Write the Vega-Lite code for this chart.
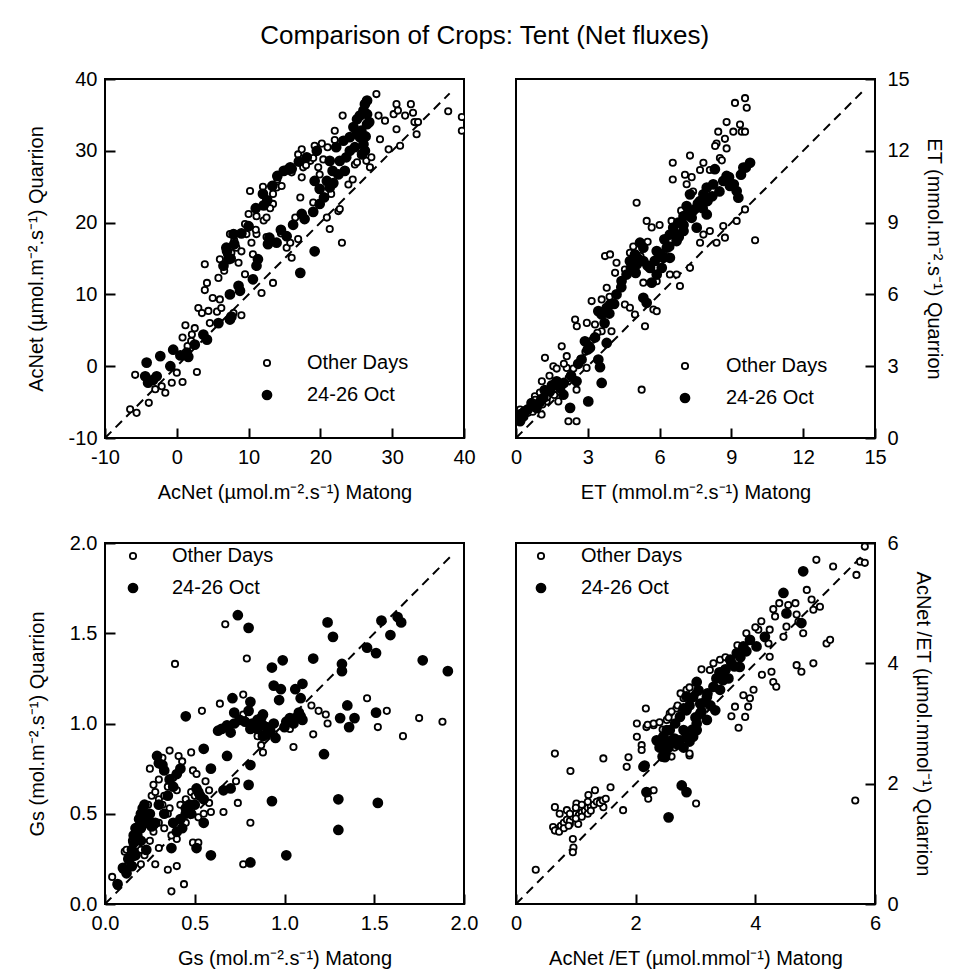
{
"$schema": "https://vega.github.io/schema/vega-lite/v6.json",
"autosize": {"type": "pad"},
"padding": {"left": 25, "top": 23, "right": 5, "bottom": 5},
"background": "white",
"title": {"text": "Comparison of Crops: Tent (Net fluxes)", "fontSize": 26, "fontWeight": "normal", "font": "Liberation Sans", "anchor": "middle", "color": "black", "offset": 19},
"datasets": {
"line1": [{"x": -10, "y": -10}, {"x": 38, "y": 38}],
"line2": [{"x": 0, "y": 0}, {"x": 14.6, "y": 14.6}],
"line3": [{"x": 0, "y": 0}, {"x": 1.93, "y": 1.93}],
"line4": [{"x": 0, "y": 0}, {"x": 5.8, "y": 5.8}],
"p1": [
{"x":-5.8,"y":-1.2,"s":"Other Days"},{"x":-6.5,"y":-6.0,"s":"Other Days"},{"x":-5.6,"y":-6.5,"s":"Other Days"},{"x":-3.9,"y":-5.1,"s":"Other Days"},{"x":-1.6,"y":-3.7,"s":"Other Days"},{"x":-2.1,"y":-2.8,"s":"Other Days"},{"x":-0.7,"y":-2.3,"s":"Other Days"},{"x":0.8,"y":-2.2,"s":"Other Days"},{"x":0,"y":-0.9,"s":"Other Days"},{"x":2.8,"y":-0.8,"s":"Other Days"},{"x":1.1,"y":1.6,"s":"Other Days"},{"x":0.8,"y":4.0,"s":"Other Days"},{"x":1.2,"y":5.7,"s":"Other Days"},{"x":2.1,"y":4.4,"s":"Other Days"},{"x":2.5,"y":5.3,"s":"Other Days"},{"x":3.0,"y":8.1,"s":"Other Days"},{"x":3.5,"y":7.4,"s":"Other Days"},{"x":4.4,"y":7.7,"s":"Other Days"},{"x":5.6,"y":7.6,"s":"Other Days"},{"x":4.6,"y":6.0,"s":"Other Days"},{"x":3.9,"y":14.2,"s":"Other Days"},{"x":4.2,"y":11.6,"s":"Other Days"},{"x":3.9,"y":10.6,"s":"Other Days"},{"x":6.0,"y":9.3,"s":"Other Days"},{"x":6.2,"y":8.1,"s":"Other Days"},{"x":7.9,"y":7.4,"s":"Other Days"},{"x":9.0,"y":7.1,"s":"Other Days"},{"x":5.8,"y":12.3,"s":"Other Days"},{"x":6.6,"y":13.3,"s":"Other Days"},{"x":6.0,"y":14.9,"s":"Other Days"},{"x":7.0,"y":15.6,"s":"Other Days"},{"x":7.4,"y":18.4,"s":"Other Days"},{"x":7.6,"y":15.8,"s":"Other Days"},{"x":8.3,"y":16.5,"s":"Other Days"},{"x":8.6,"y":14.4,"s":"Other Days"},{"x":9.5,"y":12.8,"s":"Other Days"},{"x":10.2,"y":24.4,"s":"Other Days"},{"x":9.5,"y":19.8,"s":"Other Days"},{"x":10.0,"y":21.2,"s":"Other Days"},{"x":11.1,"y":20.9,"s":"Other Days"},{"x":9.7,"y":18.4,"s":"Other Days"},{"x":10.4,"y":17.2,"s":"Other Days"},{"x":10.6,"y":15.6,"s":"Other Days"},{"x":11.1,"y":18.4,"s":"Other Days"},{"x":12.1,"y":20.3,"s":"Other Days"},{"x":12.5,"y":20.7,"s":"Other Days"},{"x":11.8,"y":10.2,"s":"Other Days"},{"x":13.4,"y":11.6,"s":"Other Days"},{"x":13.4,"y":22.6,"s":"Other Days"},{"x":13.4,"y":24.0,"s":"Other Days"},{"x":13.9,"y":24.9,"s":"Other Days"},{"x":14.6,"y":25.1,"s":"Other Days"},{"x":15.3,"y":16.5,"s":"Other Days"},{"x":16.0,"y":15.1,"s":"Other Days"},{"x":15.8,"y":17.2,"s":"Other Days"},{"x":16.5,"y":20.7,"s":"Other Days"},{"x":16.9,"y":29.5,"s":"Other Days"},{"x":17.4,"y":30.2,"s":"Other Days"},{"x":17.4,"y":26.3,"s":"Other Days"},{"x":17.6,"y":27.7,"s":"Other Days"},{"x":17.2,"y":23.5,"s":"Other Days"},{"x":16.9,"y":17.7,"s":"Other Days"},{"x":18.6,"y":28.6,"s":"Other Days"},{"x":19.2,"y":30.7,"s":"Other Days"},{"x":20.2,"y":31.0,"s":"Other Days"},{"x":19.7,"y":27.7,"s":"Other Days"},{"x":20.4,"y":28.8,"s":"Other Days"},{"x":19.0,"y":22.8,"s":"Other Days"},{"x":19.9,"y":26.7,"s":"Other Days"},{"x":20.9,"y":20.7,"s":"Other Days"},{"x":21.3,"y":19.1,"s":"Other Days"},{"x":22.0,"y":32.8,"s":"Other Days"},{"x":22.5,"y":21.6,"s":"Other Days"},{"x":22.7,"y":21.9,"s":"Other Days"},{"x":23.0,"y":17.2,"s":"Other Days"},{"x":23.1,"y":34.9,"s":"Other Days"},{"x":23.9,"y":25.3,"s":"Other Days"},{"x":24.8,"y":28.1,"s":"Other Days"},{"x":25.1,"y":28.4,"s":"Other Days"},{"x":26.4,"y":28.6,"s":"Other Days"},{"x":26.9,"y":27.7,"s":"Other Days"},{"x":27.8,"y":37.9,"s":"Other Days"},{"x":28.1,"y":34.9,"s":"Other Days"},{"x":28.3,"y":31.6,"s":"Other Days"},{"x":29.0,"y":34.2,"s":"Other Days"},{"x":29.5,"y":30.2,"s":"Other Days"},{"x":30.2,"y":35.1,"s":"Other Days"},{"x":30.6,"y":36.5,"s":"Other Days"},{"x":30.8,"y":35.6,"s":"Other Days"},{"x":30.6,"y":33.0,"s":"Other Days"},{"x":31.1,"y":30.7,"s":"Other Days"},{"x":31.8,"y":34.9,"s":"Other Days"},{"x":32.6,"y":36.5,"s":"Other Days"},{"x":32.9,"y":35.3,"s":"Other Days"},{"x":33.1,"y":34.0,"s":"Other Days"},{"x":33.4,"y":32.3,"s":"Other Days"},{"x":33.6,"y":34.0,"s":"Other Days"},{"x":37.8,"y":35.5,"s":"Other Days"},{"x":39.7,"y":34.7,"s":"Other Days"},{"x":39.7,"y":32.8,"s":"Other Days"},{"x":27.1,"y":29.1,"s":"Other Days"},{"x":12,"y":25,"s":"Other Days"},{"x":13,"y":22,"s":"Other Days"},{"x":11,"y":19,"s":"Other Days"},{"x":14,"y":26,"s":"Other Days"},{"x":16,"y":27,"s":"Other Days"},{"x":18,"y":28,"s":"Other Days"},{"x":19,"y":29,"s":"Other Days"},{"x":21,"y":30.5,"s":"Other Days"},{"x":22,"y":31.5,"s":"Other Days"},{"x":-3.0,"y":-3.2,"s":"Other Days"},{"x":1.5,"y":2.8,"s":"Other Days"},{"x":2.0,"y":3.5,"s":"Other Days"},{"x":5,"y":9.5,"s":"Other Days"},{"x":8,"y":17.5,"s":"Other Days"},{"x":9,"y":16,"s":"Other Days"},{"x":12.5,"y":18,"s":"Other Days"},{"x":14.5,"y":18.5,"s":"Other Days"},{"x":17.5,"y":21,"s":"Other Days"},{"x":21.5,"y":24,"s":"Other Days"},{"x":24.5,"y":26,"s":"Other Days"},
{"x":-4.2,"y":0.5,"s":"24-26 Oct"},{"x":-4.4,"y":-1.4,"s":"24-26 Oct"},{"x":-4.0,"y":-2.3,"s":"24-26 Oct"},{"x":-3.3,"y":-1.9,"s":"24-26 Oct"},{"x":-2.8,"y":-1.4,"s":"24-26 Oct"},{"x":-2.3,"y":1.4,"s":"24-26 Oct"},{"x":-0.9,"y":0.0,"s":"24-26 Oct"},{"x":-0.5,"y":2.3,"s":"24-26 Oct"},{"x":1.4,"y":1.9,"s":"24-26 Oct"},{"x":1.6,"y":1.3,"s":"24-26 Oct"},{"x":4.2,"y":3.7,"s":"24-26 Oct"},{"x":3.7,"y":4.4,"s":"24-26 Oct"},{"x":5.8,"y":6.0,"s":"24-26 Oct"},{"x":7.4,"y":6.5,"s":"24-26 Oct"},{"x":7.6,"y":6.9,"s":"24-26 Oct"},{"x":7.4,"y":10.0,"s":"24-26 Oct"},{"x":8.6,"y":11.2,"s":"24-26 Oct"},{"x":8.8,"y":10.5,"s":"24-26 Oct"},{"x":10.6,"y":12.1,"s":"24-26 Oct"},{"x":11.1,"y":14.0,"s":"24-26 Oct"},{"x":11.3,"y":14.9,"s":"24-26 Oct"},{"x":12.7,"y":17.0,"s":"24-26 Oct"},{"x":12.9,"y":17.9,"s":"24-26 Oct"},{"x":13.9,"y":17.2,"s":"24-26 Oct"},{"x":15.3,"y":18.1,"s":"24-26 Oct"},{"x":16.2,"y":19.7,"s":"24-26 Oct"},{"x":17.2,"y":13.0,"s":"24-26 Oct"},{"x":19.2,"y":16.0,"s":"24-26 Oct"},{"x":17.4,"y":21.2,"s":"24-26 Oct"},{"x":19.0,"y":21.5,"s":"24-26 Oct"},{"x":19.9,"y":22.6,"s":"24-26 Oct"},{"x":6.9,"y":16.5,"s":"24-26 Oct"},{"x":7.2,"y":14.9,"s":"24-26 Oct"},{"x":7.9,"y":18.4,"s":"24-26 Oct"},{"x":12.1,"y":22.4,"s":"24-26 Oct"},{"x":12.6,"y":23.1,"s":"24-26 Oct"},{"x":13.3,"y":25.1,"s":"24-26 Oct"},{"x":14.9,"y":27.2,"s":"24-26 Oct"},{"x":15.5,"y":27.4,"s":"24-26 Oct"},{"x":15.8,"y":27.7,"s":"24-26 Oct"},{"x":18.1,"y":29.1,"s":"24-26 Oct"},{"x":19.5,"y":30.0,"s":"24-26 Oct"},{"x":19.2,"y":25.8,"s":"24-26 Oct"},{"x":19.9,"y":24.7,"s":"24-26 Oct"},{"x":20.9,"y":25.8,"s":"24-26 Oct"},{"x":21.3,"y":24.9,"s":"24-26 Oct"},{"x":21.7,"y":27.2,"s":"24-26 Oct"},{"x":22.7,"y":28.6,"s":"24-26 Oct"},{"x":22.2,"y":30.5,"s":"24-26 Oct"},{"x":23.2,"y":31.4,"s":"24-26 Oct"},{"x":24.1,"y":31.9,"s":"24-26 Oct"},{"x":24.6,"y":33.3,"s":"24-26 Oct"},{"x":25.1,"y":34.4,"s":"24-26 Oct"},{"x":25.5,"y":34.9,"s":"24-26 Oct"},{"x":26.0,"y":35.6,"s":"24-26 Oct"},{"x":26.2,"y":36.5,"s":"24-26 Oct"},{"x":26.5,"y":37.0,"s":"24-26 Oct"},{"x":25.7,"y":32.8,"s":"24-26 Oct"},{"x":26.0,"y":30.9,"s":"24-26 Oct"},{"x":24.8,"y":30.5,"s":"24-26 Oct"},{"x":25.5,"y":31.9,"s":"24-26 Oct"},{"x":26.5,"y":33.7,"s":"24-26 Oct"},{"x":26.2,"y":30.0,"s":"24-26 Oct"},{"x":23.6,"y":29.1,"s":"24-26 Oct"},{"x":22.5,"y":26.7,"s":"24-26 Oct"},{"x":23.4,"y":27.2,"s":"24-26 Oct"},{"x":21.3,"y":28.6,"s":"24-26 Oct"},{"x":24.1,"y":30.0,"s":"24-26 Oct"},{"x":25.1,"y":32.6,"s":"24-26 Oct"},{"x":26.5,"y":35.1,"s":"24-26 Oct"},{"x":11,"y":22,"s":"24-26 Oct"},{"x":12,"y":24,"s":"24-26 Oct"},{"x":14,"y":26.5,"s":"24-26 Oct"},{"x":16,"y":27.5,"s":"24-26 Oct"},{"x":17,"y":28.5,"s":"24-26 Oct"},{"x":7,"y":16,"s":"24-26 Oct"},{"x":8,"y":17,"s":"24-26 Oct"},{"x":9,"y":18.5,"s":"24-26 Oct"},{"x":10,"y":19.5,"s":"24-26 Oct"},{"x":7.5,"y":15,"s":"24-26 Oct"},{"x":6.5,"y":14,"s":"24-26 Oct"},{"x":14.5,"y":19,"s":"24-26 Oct"},{"x":17.8,"y":20.5,"s":"24-26 Oct"},{"x":20.5,"y":23.5,"s":"24-26 Oct"},{"x":21.8,"y":25.5,"s":"24-26 Oct"},{"x":25.8,"y":29.5,"s":"24-26 Oct"},{"x":26.8,"y":34,"s":"24-26 Oct"},{"x":26.3,"y":32,"s":"24-26 Oct"},{"x":0.5,"y":1.5,"s":"24-26 Oct"},{"x":2.5,"y":3,"s":"24-26 Oct"}
],
"p2": [
{"x":9.15,"y":14.0,"s":"Other Days"},{"x":9.57,"y":14.2,"s":"Other Days"},{"x":9.64,"y":13.8,"s":"Other Days"},{"x":8.8,"y":13.2,"s":"Other Days"},{"x":8.45,"y":12.8,"s":"Other Days"},{"x":9.08,"y":12.8,"s":"Other Days"},{"x":9.36,"y":13.1,"s":"Other Days"},{"x":9.43,"y":12.8,"s":"Other Days"},{"x":9.57,"y":12.8,"s":"Other Days"},{"x":8.73,"y":12.5,"s":"Other Days"},{"x":8.38,"y":12.3,"s":"Other Days"},{"x":8.32,"y":12.2,"s":"Other Days"},{"x":8.8,"y":12.1,"s":"Other Days"},{"x":8.52,"y":11.7,"s":"Other Days"},{"x":8.6,"y":11.6,"s":"Other Days"},{"x":7.27,"y":11.8,"s":"Other Days"},{"x":6.55,"y":11.5,"s":"Other Days"},{"x":6.55,"y":10.8,"s":"Other Days"},{"x":7.06,"y":11.0,"s":"Other Days"},{"x":7.34,"y":10.9,"s":"Other Days"},{"x":7.13,"y":10.6,"s":"Other Days"},{"x":7.69,"y":11.2,"s":"Other Days"},{"x":7.83,"y":11.5,"s":"Other Days"},{"x":8.1,"y":11.2,"s":"Other Days"},{"x":5.04,"y":9.83,"s":"Other Days"},{"x":5.46,"y":9.07,"s":"Other Days"},{"x":5.67,"y":8.8,"s":"Other Days"},{"x":6.5,"y":9.07,"s":"Other Days"},{"x":7.69,"y":8.16,"s":"Other Days"},{"x":7.83,"y":8.5,"s":"Other Days"},{"x":8.1,"y":8.65,"s":"Other Days"},{"x":8.38,"y":8.16,"s":"Other Days"},{"x":8.73,"y":8.37,"s":"Other Days"},{"x":8.66,"y":8.86,"s":"Other Days"},{"x":9.22,"y":9.07,"s":"Other Days"},{"x":9.57,"y":9.55,"s":"Other Days"},{"x":9.99,"y":8.26,"s":"Other Days"},{"x":6.85,"y":6.35,"s":"Other Days"},{"x":7.27,"y":7.11,"s":"Other Days"},{"x":6.71,"y":6.83,"s":"Other Days"},{"x":3.72,"y":7.6,"s":"Other Days"},{"x":3.93,"y":7.67,"s":"Other Days"},{"x":4.2,"y":7.32,"s":"Other Days"},{"x":4.14,"y":6.9,"s":"Other Days"},{"x":4.55,"y":7.04,"s":"Other Days"},{"x":4.76,"y":7.74,"s":"Other Days"},{"x":4.9,"y":8.0,"s":"Other Days"},{"x":3.79,"y":6.28,"s":"Other Days"},{"x":3.16,"y":5.72,"s":"Other Days"},{"x":3.58,"y":5.79,"s":"Other Days"},{"x":3.91,"y":5.9,"s":"Other Days"},{"x":4.55,"y":5.58,"s":"Other Days"},{"x":4.76,"y":5.44,"s":"Other Days"},{"x":4.97,"y":5.16,"s":"Other Days"},{"x":5.39,"y":4.67,"s":"Other Days"},{"x":5.74,"y":5.37,"s":"Other Days"},{"x":5.88,"y":5.3,"s":"Other Days"},{"x":2.47,"y":4.95,"s":"Other Days"},{"x":2.54,"y":4.67,"s":"Other Days"},{"x":2.96,"y":4.81,"s":"Other Days"},{"x":3.3,"y":4.74,"s":"Other Days"},{"x":3.58,"y":4.46,"s":"Other Days"},{"x":3.99,"y":4.46,"s":"Other Days"},{"x":1.91,"y":3.83,"s":"Other Days"},{"x":2.12,"y":3.42,"s":"Other Days"},{"x":1.21,"y":3.35,"s":"Other Days"},{"x":1.56,"y":3.0,"s":"Other Days"},{"x":2.12,"y":2.93,"s":"Other Days"},{"x":2.95,"y":2.93,"s":"Other Days"},{"x":1.08,"y":2.37,"s":"Other Days"},{"x":0.79,"y":1.74,"s":"Other Days"},{"x":1.28,"y":1.53,"s":"Other Days"},{"x":1.77,"y":1.53,"s":"Other Days"},{"x":2.53,"y":2.02,"s":"Other Days"},{"x":1.07,"y":0.98,"s":"Other Days"},{"x":2.19,"y":0.7,"s":"Other Days"},{"x":2.53,"y":0.7,"s":"Other Days"},{"x":0.17,"y":1.19,"s":"Other Days"},{"x":5.25,"y":2.02,"s":"Other Days"},{"x":6.43,"y":6.83,"s":"Other Days"},{"x":5.88,"y":6.55,"s":"Other Days"},{"x":5.32,"y":6.49,"s":"Other Days"},{"x":0.1,"y":1.0,"s":"Other Days"},{"x":0.3,"y":1.1,"s":"Other Days"},{"x":0.5,"y":1.05,"s":"Other Days"},{"x":0.7,"y":1.1,"s":"Other Days"},{"x":0.9,"y":1.3,"s":"Other Days"},{"x":1.1,"y":1.4,"s":"Other Days"},{"x":1.3,"y":1.7,"s":"Other Days"},{"x":1.6,"y":1.8,"s":"Other Days"},{"x":1.9,"y":2.2,"s":"Other Days"},{"x":2.2,"y":2.5,"s":"Other Days"},{"x":2.4,"y":2.9,"s":"Other Days"},{"x":2.7,"y":3.3,"s":"Other Days"},{"x":2.9,"y":3.6,"s":"Other Days"},{"x":3.2,"y":4.1,"s":"Other Days"},{"x":3.4,"y":4.4,"s":"Other Days"},{"x":1.4,"y":2.6,"s":"Other Days"},{"x":1.7,"y":2.9,"s":"Other Days"},{"x":2.0,"y":3.1,"s":"Other Days"},{"x":0.8,"y":1.6,"s":"Other Days"},{"x":1.0,"y":1.9,"s":"Other Days"},{"x":5.5,"y":8.2,"s":"Other Days"},{"x":6.0,"y":8.9,"s":"Other Days"},{"x":6.2,"y":7.6,"s":"Other Days"},{"x":6.9,"y":9.5,"s":"Other Days"},{"x":7.4,"y":10.3,"s":"Other Days"},{"x":5.2,"y":7.6,"s":"Other Days"},{"x":4.4,"y":6.5,"s":"Other Days"},
{"x":0.17,"y":0.7,"s":"24-26 Oct"},{"x":0.38,"y":1.12,"s":"24-26 Oct"},{"x":0.65,"y":1.46,"s":"24-26 Oct"},{"x":0.86,"y":1.26,"s":"24-26 Oct"},{"x":1.14,"y":1.67,"s":"24-26 Oct"},{"x":1.42,"y":1.95,"s":"24-26 Oct"},{"x":1.7,"y":2.37,"s":"24-26 Oct"},{"x":1.84,"y":2.09,"s":"24-26 Oct"},{"x":2.26,"y":1.26,"s":"24-26 Oct"},{"x":2.53,"y":2.37,"s":"24-26 Oct"},{"x":1.98,"y":1.81,"s":"24-26 Oct"},{"x":3.02,"y":1.53,"s":"24-26 Oct"},{"x":3.58,"y":2.3,"s":"24-26 Oct"},{"x":3.51,"y":2.96,"s":"24-26 Oct"},{"x":3.44,"y":3.28,"s":"24-26 Oct"},{"x":2.74,"y":3.28,"s":"24-26 Oct"},{"x":3.09,"y":3.77,"s":"24-26 Oct"},{"x":2.88,"y":4.04,"s":"24-26 Oct"},{"x":3.79,"y":3.97,"s":"24-26 Oct"},{"x":3.44,"y":5.3,"s":"24-26 Oct"},{"x":3.58,"y":5.16,"s":"24-26 Oct"},{"x":3.79,"y":5.44,"s":"24-26 Oct"},{"x":3.93,"y":5.58,"s":"24-26 Oct"},{"x":4.41,"y":6.56,"s":"24-26 Oct"},{"x":4.62,"y":6.83,"s":"24-26 Oct"},{"x":4.76,"y":7.39,"s":"24-26 Oct"},{"x":4.97,"y":7.67,"s":"24-26 Oct"},{"x":5.18,"y":8.16,"s":"24-26 Oct"},{"x":5.32,"y":7.95,"s":"24-26 Oct"},{"x":5.04,"y":7.25,"s":"24-26 Oct"},{"x":5.32,"y":7.39,"s":"24-26 Oct"},{"x":5.6,"y":7.11,"s":"24-26 Oct"},{"x":5.67,"y":6.49,"s":"24-26 Oct"},{"x":5.32,"y":5.86,"s":"24-26 Oct"},{"x":5.46,"y":5.65,"s":"24-26 Oct"},{"x":5.88,"y":6.83,"s":"24-26 Oct"},{"x":6.09,"y":7.11,"s":"24-26 Oct"},{"x":6.16,"y":7.53,"s":"24-26 Oct"},{"x":6.3,"y":7.95,"s":"24-26 Oct"},{"x":6.43,"y":8.5,"s":"24-26 Oct"},{"x":6.57,"y":8.79,"s":"24-26 Oct"},{"x":6.78,"y":9.0,"s":"24-26 Oct"},{"x":7.0,"y":9.27,"s":"24-26 Oct"},{"x":7.13,"y":9.69,"s":"24-26 Oct"},{"x":7.34,"y":9.2,"s":"24-26 Oct"},{"x":7.55,"y":9.62,"s":"24-26 Oct"},{"x":7.69,"y":9.9,"s":"24-26 Oct"},{"x":7.83,"y":10.18,"s":"24-26 Oct"},{"x":7.97,"y":10.46,"s":"24-26 Oct"},{"x":8.24,"y":10.6,"s":"24-26 Oct"},{"x":8.66,"y":10.74,"s":"24-26 Oct"},{"x":8.8,"y":10.95,"s":"24-26 Oct"},{"x":8.94,"y":10.53,"s":"24-26 Oct"},{"x":9.22,"y":10.32,"s":"24-26 Oct"},{"x":9.29,"y":10.04,"s":"24-26 Oct"},{"x":9.5,"y":11.3,"s":"24-26 Oct"},{"x":9.78,"y":11.5,"s":"24-26 Oct"},{"x":8.31,"y":11.23,"s":"24-26 Oct"},{"x":7.55,"y":8.79,"s":"24-26 Oct"},{"x":7.0,"y":8.65,"s":"24-26 Oct"},{"x":6.71,"y":8.23,"s":"24-26 Oct"},{"x":7.97,"y":9.34,"s":"24-26 Oct"},{"x":7.27,"y":10.18,"s":"24-26 Oct"},{"x":6.43,"y":7.53,"s":"24-26 Oct"},{"x":5.88,"y":7.81,"s":"24-26 Oct"},{"x":4.2,"y":6.0,"s":"24-26 Oct"},{"x":4.4,"y":6.3,"s":"24-26 Oct"},{"x":4.8,"y":7.1,"s":"24-26 Oct"},{"x":5.0,"y":6.9,"s":"24-26 Oct"},{"x":5.1,"y":7.5,"s":"24-26 Oct"},{"x":5.5,"y":7.2,"s":"24-26 Oct"},{"x":5.8,"y":7.4,"s":"24-26 Oct"},{"x":6.0,"y":7.7,"s":"24-26 Oct"},{"x":6.2,"y":8.3,"s":"24-26 Oct"},{"x":6.4,"y":8.0,"s":"24-26 Oct"},{"x":6.6,"y":8.6,"s":"24-26 Oct"},{"x":6.8,"y":8.4,"s":"24-26 Oct"},{"x":7.0,"y":8.9,"s":"24-26 Oct"},{"x":7.2,"y":9.3,"s":"24-26 Oct"},{"x":7.4,"y":9.5,"s":"24-26 Oct"},{"x":7.6,"y":9.8,"s":"24-26 Oct"},{"x":7.8,"y":9.6,"s":"24-26 Oct"},{"x":8.0,"y":9.9,"s":"24-26 Oct"},{"x":8.2,"y":10.1,"s":"24-26 Oct"},{"x":8.5,"y":10.3,"s":"24-26 Oct"},{"x":8.9,"y":10.9,"s":"24-26 Oct"},{"x":9.1,"y":10.6,"s":"24-26 Oct"},{"x":9.4,"y":11.0,"s":"24-26 Oct"},{"x":9.6,"y":11.3,"s":"24-26 Oct"},{"x":1.2,"y":2.0,"s":"24-26 Oct"},{"x":1.5,"y":2.2,"s":"24-26 Oct"},{"x":1.0,"y":1.5,"s":"24-26 Oct"},{"x":0.5,"y":1.2,"s":"24-26 Oct"},{"x":0.3,"y":0.9,"s":"24-26 Oct"},{"x":0.2,"y":1.0,"s":"24-26 Oct"},{"x":2.0,"y":2.3,"s":"24-26 Oct"},{"x":2.3,"y":2.6,"s":"24-26 Oct"},{"x":2.6,"y":3.1,"s":"24-26 Oct"},{"x":3.0,"y":3.7,"s":"24-26 Oct"},{"x":3.3,"y":4.2,"s":"24-26 Oct"},{"x":3.7,"y":4.8,"s":"24-26 Oct"},{"x":3.9,"y":5.2,"s":"24-26 Oct"},{"x":4.1,"y":5.6,"s":"24-26 Oct"}
],
"p3": [
{"x":0.04,"y":0.15,"s":"Other Days"},{"x":0.07,"y":0.10,"s":"Other Days"},{"x":0.10,"y":0.19,"s":"Other Days"},{"x":0.11,"y":0.29,"s":"Other Days"},{"x":0.14,"y":0.24,"s":"Other Days"},{"x":0.17,"y":0.27,"s":"Other Days"},{"x":0.28,"y":0.22,"s":"Other Days"},{"x":0.25,"y":0.75,"s":"Other Days"},{"x":0.27,"y":0.66,"s":"Other Days"},{"x":0.30,"y":0.69,"s":"Other Days"},{"x":0.32,"y":0.81,"s":"Other Days"},{"x":0.36,"y":0.85,"s":"Other Days"},{"x":0.37,"y":0.07,"s":"Other Days"},{"x":0.40,"y":0.21,"s":"Other Days"},{"x":0.35,"y":0.19,"s":"Other Days"},{"x":0.44,"y":0.11,"s":"Other Days"},{"x":0.39,"y":1.33,"s":"Other Days"},{"x":0.41,"y":0.82,"s":"Other Days"},{"x":0.43,"y":0.79,"s":"Other Days"},{"x":0.48,"y":0.84,"s":"Other Days"},{"x":0.40,"y":0.36,"s":"Other Days"},{"x":0.30,"y":0.31,"s":"Other Days"},{"x":0.32,"y":0.55,"s":"Other Days"},{"x":0.36,"y":0.53,"s":"Other Days"},{"x":0.49,"y":0.74,"s":"Other Days"},{"x":0.51,"y":0.72,"s":"Other Days"},{"x":0.49,"y":0.34,"s":"Other Days"},{"x":0.52,"y":0.34,"s":"Other Days"},{"x":0.54,"y":1.07,"s":"Other Days"},{"x":0.56,"y":0.68,"s":"Other Days"},{"x":0.58,"y":0.56,"s":"Other Days"},{"x":0.59,"y":0.51,"s":"Other Days"},{"x":0.66,"y":0.51,"s":"Other Days"},{"x":0.64,"y":1.11,"s":"Other Days"},{"x":0.67,"y":1.55,"s":"Other Days"},{"x":0.73,"y":0.68,"s":"Other Days"},{"x":0.74,"y":0.56,"s":"Other Days"},{"x":0.77,"y":0.22,"s":"Other Days"},{"x":0.77,"y":1.16,"s":"Other Days"},{"x":0.77,"y":1.05,"s":"Other Days"},{"x":0.79,"y":1.36,"s":"Other Days"},{"x":0.81,"y":0.45,"s":"Other Days"},{"x":0.85,"y":0.93,"s":"Other Days"},{"x":0.87,"y":0.88,"s":"Other Days"},{"x":0.88,"y":0.84,"s":"Other Days"},{"x":0.93,"y":0.99,"s":"Other Days"},{"x":0.94,"y":0.94,"s":"Other Days"},{"x":1.05,"y":0.87,"s":"Other Days"},{"x":1.03,"y":0.97,"s":"Other Days"},{"x":1.15,"y":1.10,"s":"Other Days"},{"x":1.16,"y":0.94,"s":"Other Days"},{"x":1.19,"y":1.07,"s":"Other Days"},{"x":1.23,"y":1.05,"s":"Other Days"},{"x":1.24,"y":1.00,"s":"Other Days"},{"x":1.46,"y":1.14,"s":"Other Days"},{"x":1.52,"y":0.98,"s":"Other Days"},{"x":1.57,"y":1.07,"s":"Other Days"},{"x":1.66,"y":0.93,"s":"Other Days"},{"x":1.75,"y":1.03,"s":"Other Days"},{"x":1.88,"y":1.01,"s":"Other Days"},{"x":0.12,"y":0.30,"s":"Other Days"},{"x":0.15,"y":0.35,"s":"Other Days"},{"x":0.18,"y":0.42,"s":"Other Days"},{"x":0.2,"y":0.45,"s":"Other Days"},{"x":0.22,"y":0.5,"s":"Other Days"},{"x":0.24,"y":0.55,"s":"Other Days"},{"x":0.26,"y":0.6,"s":"Other Days"},{"x":0.28,"y":0.62,"s":"Other Days"},{"x":0.3,"y":0.58,"s":"Other Days"},{"x":0.33,"y":0.6,"s":"Other Days"},{"x":0.35,"y":0.65,"s":"Other Days"},{"x":0.38,"y":0.7,"s":"Other Days"},{"x":0.4,"y":0.63,"s":"Other Days"},{"x":0.42,"y":0.55,"s":"Other Days"},{"x":0.45,"y":0.58,"s":"Other Days"},{"x":0.48,"y":0.62,"s":"Other Days"},{"x":0.5,"y":0.6,"s":"Other Days"},{"x":0.52,"y":0.48,"s":"Other Days"},{"x":0.55,"y":0.5,"s":"Other Days"},{"x":0.58,"y":0.63,"s":"Other Days"},{"x":0.2,"y":0.3,"s":"Other Days"},{"x":0.25,"y":0.35,"s":"Other Days"},{"x":0.3,"y":0.45,"s":"Other Days"},{"x":0.35,"y":0.5,"s":"Other Days"},{"x":0.13,"y":0.22,"s":"Other Days"},{"x":0.16,"y":0.26,"s":"Other Days"},{"x":0.2,"y":0.22,"s":"Other Days"},{"x":0.22,"y":0.27,"s":"Other Days"},{"x":0.27,"y":0.4,"s":"Other Days"},{"x":0.33,"y":0.42,"s":"Other Days"},{"x":0.37,"y":0.38,"s":"Other Days"},{"x":0.45,"y":0.45,"s":"Other Days"},
{"x":0.07,"y":0.11,"s":"24-26 Oct"},{"x":0.12,"y":0.17,"s":"24-26 Oct"},{"x":0.15,"y":0.21,"s":"24-26 Oct"},{"x":0.16,"y":0.34,"s":"24-26 Oct"},{"x":0.17,"y":0.42,"s":"24-26 Oct"},{"x":0.16,"y":0.38,"s":"24-26 Oct"},{"x":0.19,"y":0.47,"s":"24-26 Oct"},{"x":0.21,"y":0.53,"s":"24-26 Oct"},{"x":0.23,"y":0.45,"s":"24-26 Oct"},{"x":0.27,"y":0.44,"s":"24-26 Oct"},{"x":0.29,"y":0.82,"s":"24-26 Oct"},{"x":0.32,"y":0.77,"s":"24-26 Oct"},{"x":0.36,"y":0.69,"s":"24-26 Oct"},{"x":0.37,"y":0.31,"s":"24-26 Oct"},{"x":0.43,"y":0.42,"s":"24-26 Oct"},{"x":0.45,"y":0.53,"s":"24-26 Oct"},{"x":0.47,"y":0.55,"s":"24-26 Oct"},{"x":0.51,"y":0.64,"s":"24-26 Oct"},{"x":0.53,"y":0.60,"s":"24-26 Oct"},{"x":0.55,"y":0.45,"s":"24-26 Oct"},{"x":0.51,"y":0.31,"s":"24-26 Oct"},{"x":0.55,"y":0.86,"s":"24-26 Oct"},{"x":0.59,"y":0.27,"s":"24-26 Oct"},{"x":0.59,"y":0.75,"s":"24-26 Oct"},{"x":0.45,"y":1.04,"s":"24-26 Oct"},{"x":0.63,"y":0.96,"s":"24-26 Oct"},{"x":0.66,"y":0.63,"s":"24-26 Oct"},{"x":0.68,"y":0.82,"s":"24-26 Oct"},{"x":0.70,"y":0.64,"s":"24-26 Oct"},{"x":0.71,"y":1.14,"s":"24-26 Oct"},{"x":0.72,"y":1.06,"s":"24-26 Oct"},{"x":0.74,"y":1.60,"s":"24-26 Oct"},{"x":0.80,"y":1.53,"s":"24-26 Oct"},{"x":0.81,"y":0.77,"s":"24-26 Oct"},{"x":0.80,"y":0.66,"s":"24-26 Oct"},{"x":0.81,"y":0.23,"s":"24-26 Oct"},{"x":0.81,"y":1.12,"s":"24-26 Oct"},{"x":0.78,"y":1.01,"s":"24-26 Oct"},{"x":0.81,"y":0.97,"s":"24-26 Oct"},{"x":0.85,"y":0.97,"s":"24-26 Oct"},{"x":0.87,"y":1.03,"s":"24-26 Oct"},{"x":0.88,"y":0.99,"s":"24-26 Oct"},{"x":0.90,"y":0.94,"s":"24-26 Oct"},{"x":0.93,"y":0.57,"s":"24-26 Oct"},{"x":0.93,"y":1.31,"s":"24-26 Oct"},{"x":0.94,"y":1.21,"s":"24-26 Oct"},{"x":0.98,"y":1.19,"s":"24-26 Oct"},{"x":0.97,"y":1.13,"s":"24-26 Oct"},{"x":0.99,"y":1.35,"s":"24-26 Oct"},{"x":1.01,"y":0.27,"s":"24-26 Oct"},{"x":1.01,"y":1.01,"s":"24-26 Oct"},{"x":1.06,"y":1.03,"s":"24-26 Oct"},{"x":1.09,"y":1.04,"s":"24-26 Oct"},{"x":1.06,"y":1.19,"s":"24-26 Oct"},{"x":1.10,"y":1.22,"s":"24-26 Oct"},{"x":1.09,"y":1.14,"s":"24-26 Oct"},{"x":1.16,"y":1.36,"s":"24-26 Oct"},{"x":1.24,"y":1.56,"s":"24-26 Oct"},{"x":1.27,"y":1.48,"s":"24-26 Oct"},{"x":1.22,"y":0.83,"s":"24-26 Oct"},{"x":1.30,"y":0.58,"s":"24-26 Oct"},{"x":1.30,"y":0.41,"s":"24-26 Oct"},{"x":1.32,"y":1.33,"s":"24-26 Oct"},{"x":1.32,"y":1.29,"s":"24-26 Oct"},{"x":1.31,"y":1.03,"s":"24-26 Oct"},{"x":1.35,"y":1.10,"s":"24-26 Oct"},{"x":1.36,"y":0.98,"s":"24-26 Oct"},{"x":1.39,"y":1.03,"s":"24-26 Oct"},{"x":1.46,"y":1.42,"s":"24-26 Oct"},{"x":1.51,"y":1.39,"s":"24-26 Oct"},{"x":1.51,"y":1.06,"s":"24-26 Oct"},{"x":1.52,"y":0.56,"s":"24-26 Oct"},{"x":1.54,"y":1.57,"s":"24-26 Oct"},{"x":1.59,"y":1.49,"s":"24-26 Oct"},{"x":1.63,"y":1.59,"s":"24-26 Oct"},{"x":1.65,"y":1.56,"s":"24-26 Oct"},{"x":1.77,"y":1.35,"s":"24-26 Oct"},{"x":1.91,"y":1.29,"s":"24-26 Oct"},{"x":0.18,"y":0.38,"s":"24-26 Oct"},{"x":0.2,"y":0.5,"s":"24-26 Oct"},{"x":0.22,"y":0.55,"s":"24-26 Oct"},{"x":0.24,"y":0.48,"s":"24-26 Oct"},{"x":0.26,"y":0.43,"s":"24-26 Oct"},{"x":0.3,"y":0.55,"s":"24-26 Oct"},{"x":0.33,"y":0.5,"s":"24-26 Oct"},{"x":0.38,"y":0.45,"s":"24-26 Oct"},{"x":0.4,"y":0.4,"s":"24-26 Oct"},{"x":0.42,"y":0.47,"s":"24-26 Oct"},{"x":0.45,"y":0.5,"s":"24-26 Oct"},{"x":0.48,"y":0.5,"s":"24-26 Oct"},{"x":0.5,"y":0.55,"s":"24-26 Oct"},{"x":0.52,"y":0.62,"s":"24-26 Oct"},{"x":0.55,"y":0.58,"s":"24-26 Oct"},{"x":0.15,"y":0.3,"s":"24-26 Oct"},{"x":0.17,"y":0.27,"s":"24-26 Oct"},{"x":0.13,"y":0.25,"s":"24-26 Oct"},{"x":0.2,"y":0.35,"s":"24-26 Oct"},{"x":0.23,"y":0.3,"s":"24-26 Oct"},{"x":0.25,"y":0.5,"s":"24-26 Oct"},{"x":0.28,"y":0.45,"s":"24-26 Oct"},{"x":0.35,"y":0.6,"s":"24-26 Oct"},{"x":0.38,"y":0.65,"s":"24-26 Oct"},{"x":0.4,"y":0.72,"s":"24-26 Oct"},{"x":0.42,"y":0.75,"s":"24-26 Oct"},{"x":0.2,"y":0.42,"s":"24-26 Oct"},{"x":0.1,"y":0.2,"s":"24-26 Oct"},{"x":0.3,"y":0.78,"s":"24-26 Oct"},{"x":0.33,"y":0.74,"s":"24-26 Oct"},{"x":0.65,"y":0.97,"s":"24-26 Oct"},{"x":0.68,"y":0.99,"s":"24-26 Oct"},{"x":0.7,"y":0.95,"s":"24-26 Oct"},{"x":0.72,"y":1.0,"s":"24-26 Oct"},{"x":0.75,"y":1.02,"s":"24-26 Oct"},{"x":0.82,"y":1.0,"s":"24-26 Oct"},{"x":0.85,"y":1.02,"s":"24-26 Oct"},{"x":0.88,"y":1.05,"s":"24-26 Oct"},{"x":0.9,"y":0.98,"s":"24-26 Oct"},{"x":0.92,"y":0.96,"s":"24-26 Oct"},{"x":0.94,"y":1.0,"s":"24-26 Oct"},{"x":0.95,"y":0.92,"s":"24-26 Oct"},{"x":0.88,"y":0.93,"s":"24-26 Oct"},{"x":0.8,"y":1.07,"s":"24-26 Oct"},{"x":1.03,"y":1.03,"s":"24-26 Oct"},{"x":1.05,"y":1.0,"s":"24-26 Oct"},{"x":1.08,"y":1.06,"s":"24-26 Oct"},{"x":1.1,"y":1.02,"s":"24-26 Oct"},{"x":1.0,"y":0.98,"s":"24-26 Oct"}
],
"p4": [
{"x":0.33,"y":0.57,"s":"Other Days"},{"x":0.65,"y":2.5,"s":"Other Days"},{"x":0.91,"y":2.21,"s":"Other Days"},{"x":1.46,"y":2.42,"s":"Other Days"},{"x":0.65,"y":1.61,"s":"Other Days"},{"x":0.73,"y":1.5,"s":"Other Days"},{"x":0.62,"y":1.28,"s":"Other Days"},{"x":0.79,"y":1.28,"s":"Other Days"},{"x":0.9,"y":1.33,"s":"Other Days"},{"x":1.04,"y":1.33,"s":"Other Days"},{"x":0.95,"y":1.08,"s":"Other Days"},{"x":0.96,"y":0.94,"s":"Other Days"},{"x":0.95,"y":0.86,"s":"Other Days"},{"x":1.21,"y":1.81,"s":"Other Days"},{"x":1.32,"y":1.89,"s":"Other Days"},{"x":1.4,"y":1.72,"s":"Other Days"},{"x":1.58,"y":1.94,"s":"Other Days"},{"x":1.79,"y":1.56,"s":"Other Days"},{"x":1.46,"y":1.61,"s":"Other Days"},{"x":1.15,"y":1.56,"s":"Other Days"},{"x":1.01,"y":1.67,"s":"Other Days"},{"x":0.85,"y":1.56,"s":"Other Days"},{"x":1.85,"y":2.28,"s":"Other Days"},{"x":1.88,"y":2.44,"s":"Other Days"},{"x":2.02,"y":3.0,"s":"Other Days"},{"x":2.02,"y":2.78,"s":"Other Days"},{"x":2.1,"y":2.64,"s":"Other Days"},{"x":2.1,"y":2.56,"s":"Other Days"},{"x":2.17,"y":3.25,"s":"Other Days"},{"x":2.21,"y":1.86,"s":"Other Days"},{"x":2.3,"y":1.89,"s":"Other Days"},{"x":2.21,"y":1.75,"s":"Other Days"},{"x":2.18,"y":2.94,"s":"Other Days"},{"x":2.3,"y":2.97,"s":"Other Days"},{"x":2.52,"y":3.06,"s":"Other Days"},{"x":2.57,"y":3.17,"s":"Other Days"},{"x":2.68,"y":3.25,"s":"Other Days"},{"x":2.8,"y":3.42,"s":"Other Days"},{"x":2.85,"y":3.56,"s":"Other Days"},{"x":2.9,"y":2.47,"s":"Other Days"},{"x":3.01,"y":1.67,"s":"Other Days"},{"x":3.24,"y":3.89,"s":"Other Days"},{"x":3.41,"y":4.06,"s":"Other Days"},{"x":3.52,"y":3.89,"s":"Other Days"},{"x":3.6,"y":3.12,"s":"Other Days"},{"x":3.66,"y":3.28,"s":"Other Days"},{"x":3.72,"y":2.93,"s":"Other Days"},{"x":3.83,"y":3.11,"s":"Other Days"},{"x":3.8,"y":3.47,"s":"Other Days"},{"x":3.88,"y":3.28,"s":"Other Days"},{"x":3.97,"y":3.56,"s":"Other Days"},{"x":3.91,"y":3.42,"s":"Other Days"},{"x":4.05,"y":4.56,"s":"Other Days"},{"x":4.11,"y":3.81,"s":"Other Days"},{"x":4.24,"y":4.56,"s":"Other Days"},{"x":4.22,"y":4.33,"s":"Other Days"},{"x":4.24,"y":4.11,"s":"Other Days"},{"x":4.27,"y":3.86,"s":"Other Days"},{"x":4.3,"y":3.69,"s":"Other Days"},{"x":4.35,"y":3.61,"s":"Other Days"},{"x":4.33,"y":4.78,"s":"Other Days"},{"x":4.47,"y":4.44,"s":"Other Days"},{"x":4.52,"y":4.61,"s":"Other Days"},{"x":4.55,"y":4.97,"s":"Other Days"},{"x":4.67,"y":5.0,"s":"Other Days"},{"x":4.69,"y":4.81,"s":"Other Days"},{"x":4.72,"y":4.69,"s":"Other Days"},{"x":4.69,"y":3.97,"s":"Other Days"},{"x":4.77,"y":3.86,"s":"Other Days"},{"x":4.8,"y":4.5,"s":"Other Days"},{"x":4.86,"y":5.22,"s":"Other Days"},{"x":4.94,"y":5.06,"s":"Other Days"},{"x":4.97,"y":4.89,"s":"Other Days"},{"x":4.97,"y":4.0,"s":"Other Days"},{"x":5.02,"y":5.72,"s":"Other Days"},{"x":5.08,"y":4.94,"s":"Other Days"},{"x":5.19,"y":4.33,"s":"Other Days"},{"x":5.25,"y":4.39,"s":"Other Days"},{"x":5.3,"y":5.61,"s":"Other Days"},{"x":5.69,"y":5.47,"s":"Other Days"},{"x":5.75,"y":5.69,"s":"Other Days"},{"x":5.83,"y":5.67,"s":"Other Days"},{"x":5.83,"y":5.94,"s":"Other Days"},{"x":5.67,"y":1.72,"s":"Other Days"},{"x":0.7,"y":1.25,"s":"Other Days"},{"x":0.75,"y":1.3,"s":"Other Days"},{"x":0.8,"y":1.35,"s":"Other Days"},{"x":0.85,"y":1.4,"s":"Other Days"},{"x":0.9,"y":1.38,"s":"Other Days"},{"x":0.95,"y":1.45,"s":"Other Days"},{"x":1.0,"y":1.5,"s":"Other Days"},{"x":1.05,"y":1.48,"s":"Other Days"},{"x":1.1,"y":1.52,"s":"Other Days"},{"x":1.15,"y":1.55,"s":"Other Days"},{"x":1.2,"y":1.6,"s":"Other Days"},{"x":1.25,"y":1.62,"s":"Other Days"},{"x":1.3,"y":1.65,"s":"Other Days"},{"x":1.35,"y":1.7,"s":"Other Days"},{"x":1.4,"y":1.68,"s":"Other Days"},{"x":1.45,"y":1.72,"s":"Other Days"},{"x":1.5,"y":1.75,"s":"Other Days"},{"x":0.65,"y":1.22,"s":"Other Days"},{"x":0.72,"y":1.2,"s":"Other Days"},{"x":0.8,"y":1.26,"s":"Other Days"},{"x":0.88,"y":1.3,"s":"Other Days"},{"x":1.0,"y":1.42,"s":"Other Days"},{"x":1.1,"y":1.45,"s":"Other Days"},{"x":1.2,"y":1.5,"s":"Other Days"},{"x":1.25,"y":1.55,"s":"Other Days"},{"x":0.9,"y":1.5,"s":"Other Days"},{"x":1.0,"y":1.6,"s":"Other Days"},{"x":1.1,"y":1.65,"s":"Other Days"},{"x":1.2,"y":1.7,"s":"Other Days"},{"x":2.2,"y":2.98,"s":"Other Days"},{"x":2.3,"y":3.0,"s":"Other Days"},{"x":2.4,"y":3.02,"s":"Other Days"},{"x":2.45,"y":2.9,"s":"Other Days"},{"x":2.5,"y":2.85,"s":"Other Days"},{"x":2.55,"y":3.1,"s":"Other Days"},{"x":2.6,"y":3.2,"s":"Other Days"},{"x":2.7,"y":3.3,"s":"Other Days"},{"x":2.75,"y":3.5,"s":"Other Days"},{"x":2.9,"y":3.6,"s":"Other Days"},{"x":3.0,"y":3.5,"s":"Other Days"},{"x":2.65,"y":2.6,"s":"Other Days"},{"x":2.6,"y":2.45,"s":"Other Days"},{"x":2.9,"y":2.5,"s":"Other Days"},{"x":3.1,"y":3.9,"s":"Other Days"},{"x":3.3,"y":4.0,"s":"Other Days"},{"x":3.5,"y":4.1,"s":"Other Days"},{"x":3.6,"y":4.0,"s":"Other Days"},{"x":3.7,"y":4.3,"s":"Other Days"},{"x":3.85,"y":4.5,"s":"Other Days"},{"x":4.0,"y":4.6,"s":"Other Days"},{"x":4.1,"y":4.7,"s":"Other Days"},{"x":4.3,"y":4.9,"s":"Other Days"},{"x":4.4,"y":5.0,"s":"Other Days"},
{"x":2.13,"y":2.28,"s":"24-26 Oct"},{"x":2.18,"y":1.86,"s":"24-26 Oct"},{"x":2.49,"y":2.44,"s":"24-26 Oct"},{"x":2.55,"y":1.44,"s":"24-26 Oct"},{"x":2.77,"y":1.97,"s":"24-26 Oct"},{"x":2.85,"y":1.86,"s":"24-26 Oct"},{"x":2.35,"y":2.72,"s":"24-26 Oct"},{"x":2.46,"y":2.78,"s":"24-26 Oct"},{"x":2.57,"y":2.89,"s":"24-26 Oct"},{"x":2.66,"y":3.0,"s":"24-26 Oct"},{"x":2.74,"y":3.11,"s":"24-26 Oct"},{"x":2.85,"y":3.22,"s":"24-26 Oct"},{"x":3.02,"y":3.69,"s":"24-26 Oct"},{"x":2.96,"y":3.44,"s":"24-26 Oct"},{"x":3.08,"y":3.33,"s":"24-26 Oct"},{"x":3.19,"y":3.44,"s":"24-26 Oct"},{"x":3.3,"y":3.61,"s":"24-26 Oct"},{"x":3.35,"y":3.75,"s":"24-26 Oct"},{"x":3.46,"y":3.86,"s":"24-26 Oct"},{"x":3.58,"y":4.06,"s":"24-26 Oct"},{"x":3.69,"y":4.17,"s":"24-26 Oct"},{"x":3.8,"y":4.28,"s":"24-26 Oct"},{"x":3.91,"y":4.39,"s":"24-26 Oct"},{"x":4.02,"y":4.28,"s":"24-26 Oct"},{"x":4.16,"y":4.44,"s":"24-26 Oct"},{"x":2.96,"y":2.78,"s":"24-26 Oct"},{"x":2.8,"y":2.89,"s":"24-26 Oct"},{"x":3.02,"y":3.0,"s":"24-26 Oct"},{"x":3.08,"y":3.17,"s":"24-26 Oct"},{"x":2.74,"y":2.72,"s":"24-26 Oct"},{"x":2.85,"y":2.78,"s":"24-26 Oct"},{"x":3.19,"y":3.06,"s":"24-26 Oct"},{"x":3.33,"y":3.22,"s":"24-26 Oct"},{"x":3.02,"y":2.89,"s":"24-26 Oct"},{"x":4.47,"y":5.17,"s":"24-26 Oct"},{"x":4.52,"y":4.83,"s":"24-26 Oct"},{"x":4.8,"y":5.53,"s":"24-26 Oct"},{"x":4.77,"y":4.67,"s":"24-26 Oct"},{"x":3.46,"y":3.72,"s":"24-26 Oct"},{"x":3.74,"y":3.94,"s":"24-26 Oct"},{"x":3.41,"y":3.56,"s":"24-26 Oct"},{"x":2.6,"y":2.72,"s":"24-26 Oct"},{"x":2.52,"y":2.89,"s":"24-26 Oct"},{"x":2.4,"y":2.6,"s":"24-26 Oct"},{"x":2.5,"y":2.7,"s":"24-26 Oct"},{"x":2.55,"y":2.6,"s":"24-26 Oct"},{"x":2.65,"y":2.75,"s":"24-26 Oct"},{"x":2.7,"y":2.65,"s":"24-26 Oct"},{"x":2.8,"y":2.6,"s":"24-26 Oct"},{"x":2.9,"y":2.7,"s":"24-26 Oct"},{"x":2.95,"y":2.9,"s":"24-26 Oct"},{"x":3.0,"y":3.1,"s":"24-26 Oct"},{"x":3.1,"y":3.2,"s":"24-26 Oct"},{"x":3.15,"y":3.35,"s":"24-26 Oct"},{"x":3.2,"y":3.5,"s":"24-26 Oct"},{"x":3.25,"y":3.3,"s":"24-26 Oct"},{"x":2.9,"y":3.3,"s":"24-26 Oct"},{"x":2.8,"y":3.25,"s":"24-26 Oct"},{"x":3.05,"y":3.55,"s":"24-26 Oct"},{"x":2.85,"y":3.45,"s":"24-26 Oct"},{"x":3.4,"y":3.85,"s":"24-26 Oct"},{"x":3.5,"y":3.9,"s":"24-26 Oct"},{"x":3.6,"y":4.0,"s":"24-26 Oct"},{"x":3.55,"y":3.75,"s":"24-26 Oct"},{"x":3.65,"y":3.95,"s":"24-26 Oct"},{"x":3.75,"y":4.1,"s":"24-26 Oct"},{"x":3.85,"y":4.2,"s":"24-26 Oct"},{"x":2.45,"y":2.45,"s":"24-26 Oct"},{"x":2.5,"y":2.5,"s":"24-26 Oct"},{"x":2.15,"y":2.3,"s":"24-26 Oct"}
]
},
"columns": 2,
"spacing": {"row": 105, "column": 52},
"bounds": "flush",
"concat": [
{"width": 359, "height": 359, "layer": [
{"data": {"name": "line1"}, "mark": {"type": "line", "color": "black", "strokeWidth": 2, "strokeDash": [9, 6], "clip": true},
 "encoding": {"x": {"field": "x", "type": "quantitative", "scale": {"domain": [-10, 40], "nice": false, "zero": false}, "axis": {"values": [-10, 0, 10, 20, 30, 40], "format": "d", "labelExpr": "replace(datum.label, '\u2212', '-')", "ticks": true, "tickSize": -10, "tickColor": "black", "tickWidth": 2, "labelPadding": 19, "title": "AcNet (µmol.m⁻².s⁻¹) Matong"}},
  "y": {"field": "y", "type": "quantitative", "scale": {"domain": [-10, 40], "nice": false, "zero": false}, "axis": {"values": [-10, 0, 10, 20, 30, 40], "format": "d", "labelExpr": "replace(datum.label, '\u2212', '-')", "ticks": true, "tickSize": -10, "tickColor": "black", "tickWidth": 2, "labelPadding": 18, "titlePadding": 22, "title": "AcNet (µmol.m⁻².s⁻¹) Quarrion"}}}},
{"data": {"name": "p1"}, "mark": {"type": "circle", "stroke": "black", "strokeWidth": 1.8, "opacity": 1, "clip": true},
 "encoding": {"x": {"field": "x", "type": "quantitative", "axis": {"values": [-10, 0, 10, 20, 30, 40], "format": "d", "labelExpr": "replace(datum.label, '\u2212', '-')", "ticks": true, "tickSize": -10, "tickColor": "black", "tickWidth": 2, "labelPadding": 19, "title": "AcNet (µmol.m⁻².s⁻¹) Matong"}},
  "y": {"field": "y", "type": "quantitative", "axis": {"values": [-10, 0, 10, 20, 30, 40], "format": "d", "labelExpr": "replace(datum.label, '\u2212', '-')", "ticks": true, "tickSize": -10, "tickColor": "black", "tickWidth": 2, "labelPadding": 18, "titlePadding": 22, "title": "AcNet (µmol.m⁻².s⁻¹) Quarrion"}},
  "fill": {"field": "s", "type": "nominal", "scale": {"domain": ["Other Days", "24-26 Oct"], "range": ["white", "black"]}, "legend": {"orient": "none", "legendX": 152, "legendY": 274, "labelOffset": 30, "encode": {"symbols": {"update": {"stroke": {"value": "black"}, "strokeWidth": {"value": 1.8}}}}}},
  "size": {"field": "s", "type": "nominal", "scale": {"domain": ["Other Days", "24-26 Oct"], "range": [40, 80]}, "legend": {"orient": "none", "legendX": 152, "legendY": 274, "labelOffset": 30, "encode": {"symbols": {"update": {"stroke": {"value": "black"}, "strokeWidth": {"value": 1.8}}}}}}}}
]},
{"width": 359, "height": 359, "layer": [
{"data": {"name": "line2"}, "mark": {"type": "line", "color": "black", "strokeWidth": 2, "strokeDash": [9, 6], "clip": true},
 "encoding": {"x": {"field": "x", "type": "quantitative", "scale": {"domain": [0, 15], "nice": false, "zero": false}, "axis": {"values": [0, 3, 6, 9, 12, 15], "format": "d", "ticks": true, "tickSize": -10, "tickColor": "black", "tickWidth": 2, "labelPadding": 19, "title": "ET (mmol.m⁻².s⁻¹) Matong"}},
  "y": {"field": "y", "type": "quantitative", "scale": {"domain": [0, 15], "nice": false, "zero": false}, "axis": {"orient": "right", "values": [0, 3, 6, 9, 12, 15], "format": "d", "ticks": true, "tickSize": -10, "tickColor": "black", "tickWidth": 2, "labelPadding": 22, "titlePadding": 14, "title": "ET (mmol.m⁻².s⁻¹) Quarrion"}}}},
{"data": {"name": "p2"}, "mark": {"type": "circle", "stroke": "black", "strokeWidth": 1.8, "opacity": 1, "clip": true},
 "encoding": {"x": {"field": "x", "type": "quantitative", "axis": {"values": [0, 3, 6, 9, 12, 15], "format": "d", "ticks": true, "tickSize": -10, "tickColor": "black", "tickWidth": 2, "labelPadding": 19, "title": "ET (mmol.m⁻².s⁻¹) Matong"}},
  "y": {"field": "y", "type": "quantitative", "axis": {"orient": "right", "values": [0, 3, 6, 9, 12, 15], "format": "d", "ticks": true, "tickSize": -10, "tickColor": "black", "tickWidth": 2, "labelPadding": 22, "titlePadding": 14, "title": "ET (mmol.m⁻².s⁻¹) Quarrion"}},
  "fill": {"field": "s", "type": "nominal", "scale": {"domain": ["Other Days", "24-26 Oct"], "range": ["white", "black"]}, "legend": {"orient": "none", "legendX": 159, "legendY": 277, "labelOffset": 31, "encode": {"symbols": {"update": {"stroke": {"value": "black"}, "strokeWidth": {"value": 1.8}}}}}},
  "size": {"field": "s", "type": "nominal", "scale": {"domain": ["Other Days", "24-26 Oct"], "range": [40, 80]}, "legend": {"orient": "none", "legendX": 159, "legendY": 277, "labelOffset": 31, "encode": {"symbols": {"update": {"stroke": {"value": "black"}, "strokeWidth": {"value": 1.8}}}}}}}}
]},
{"width": 359, "height": 361, "layer": [
{"data": {"name": "line3"}, "mark": {"type": "line", "color": "black", "strokeWidth": 2, "strokeDash": [9, 6], "clip": true},
 "encoding": {"x": {"field": "x", "type": "quantitative", "scale": {"domain": [0, 2], "nice": false, "zero": false}, "axis": {"values": [0, 0.5, 1, 1.5, 2], "format": ".1f", "ticks": true, "tickSize": -10, "tickColor": "black", "tickWidth": 2, "labelPadding": 19, "title": "Gs (mol.m⁻².s⁻¹) Matong"}},
  "y": {"field": "y", "type": "quantitative", "scale": {"domain": [0, 2], "nice": false, "zero": false}, "axis": {"values": [0, 0.5, 1, 1.5, 2], "format": ".1f", "ticks": true, "tickSize": -10, "tickColor": "black", "tickWidth": 2, "labelPadding": 18, "titlePadding": 22, "title": "Gs (mol.m⁻².s⁻¹) Quarrion"}}}},
{"data": {"name": "p3"}, "mark": {"type": "circle", "stroke": "black", "strokeWidth": 1.8, "opacity": 1, "clip": true},
 "encoding": {"x": {"field": "x", "type": "quantitative", "axis": {"values": [0, 0.5, 1, 1.5, 2], "format": ".1f", "ticks": true, "tickSize": -10, "tickColor": "black", "tickWidth": 2, "labelPadding": 19, "title": "Gs (mol.m⁻².s⁻¹) Matong"}},
  "y": {"field": "y", "type": "quantitative", "axis": {"values": [0, 0.5, 1, 1.5, 2], "format": ".1f", "ticks": true, "tickSize": -10, "tickColor": "black", "tickWidth": 2, "labelPadding": 18, "titlePadding": 22, "title": "Gs (mol.m⁻².s⁻¹) Quarrion"}},
  "fill": {"field": "s", "type": "nominal", "scale": {"domain": ["Other Days", "24-26 Oct"], "range": ["white", "black"]}, "legend": {"orient": "none", "legendX": 18, "legendY": 3, "labelOffset": 29, "encode": {"symbols": {"update": {"stroke": {"value": "black"}, "strokeWidth": {"value": 1.8}}}}}},
  "size": {"field": "s", "type": "nominal", "scale": {"domain": ["Other Days", "24-26 Oct"], "range": [40, 80]}, "legend": {"orient": "none", "legendX": 18, "legendY": 3, "labelOffset": 29, "encode": {"symbols": {"update": {"stroke": {"value": "black"}, "strokeWidth": {"value": 1.8}}}}}}}}
]},
{"width": 359, "height": 361, "layer": [
{"data": {"name": "line4"}, "mark": {"type": "line", "color": "black", "strokeWidth": 2, "strokeDash": [9, 6], "clip": true},
 "encoding": {"x": {"field": "x", "type": "quantitative", "scale": {"domain": [0, 6], "nice": false, "zero": false}, "axis": {"values": [0, 2, 4, 6], "format": "d", "ticks": true, "tickSize": -10, "tickColor": "black", "tickWidth": 2, "labelPadding": 19, "title": "AcNet /ET (µmol.mmol⁻¹) Matong"}},
  "y": {"field": "y", "type": "quantitative", "scale": {"domain": [0, 6], "nice": false, "zero": false}, "axis": {"orient": "right", "values": [0, 2, 4, 6], "format": "d", "ticks": true, "tickSize": -10, "tickColor": "black", "tickWidth": 2, "labelPadding": 22, "titlePadding": 14, "title": "AcNet /ET (µmol.mmol⁻¹) Quarrion"}}}},
{"data": {"name": "p4"}, "mark": {"type": "circle", "stroke": "black", "strokeWidth": 1.8, "opacity": 1, "clip": true},
 "encoding": {"x": {"field": "x", "type": "quantitative", "axis": {"values": [0, 2, 4, 6], "format": "d", "ticks": true, "tickSize": -10, "tickColor": "black", "tickWidth": 2, "labelPadding": 19, "title": "AcNet /ET (µmol.mmol⁻¹) Matong"}},
  "y": {"field": "y", "type": "quantitative", "axis": {"orient": "right", "values": [0, 2, 4, 6], "format": "d", "ticks": true, "tickSize": -10, "tickColor": "black", "tickWidth": 2, "labelPadding": 22, "titlePadding": 14, "title": "AcNet /ET (µmol.mmol⁻¹) Quarrion"}},
  "fill": {"field": "s", "type": "nominal", "scale": {"domain": ["Other Days", "24-26 Oct"], "range": ["white", "black"]}, "legend": {"orient": "none", "legendX": 15, "legendY": 3, "labelOffset": 30, "encode": {"symbols": {"update": {"stroke": {"value": "black"}, "strokeWidth": {"value": 1.8}}}}}},
  "size": {"field": "s", "type": "nominal", "scale": {"domain": ["Other Days", "24-26 Oct"], "range": [40, 80]}, "legend": {"orient": "none", "legendX": 15, "legendY": 3, "labelOffset": 30, "encode": {"symbols": {"update": {"stroke": {"value": "black"}, "strokeWidth": {"value": 1.8}}}}}}}}
]}
],
"resolve": {"scale": {"fill": "independent", "size": "independent"}, "legend": {"fill": "independent", "size": "independent"}},
"config": {
 "font": "Liberation Sans",
 "view": {"stroke": "black", "strokeWidth": 2},
 "axis": {"domain": false, "grid": false, "ticks": true, "zindex": 1, "labelFont": "Liberation Sans", "labelFontSize": 20, "labelColor": "black", "labelFlush": false, "labelOverlap": false, "titleFont": "Liberation Sans", "titleFontSize": 20, "titleFontWeight": "normal", "titleColor": "black"},
 "axisX": {"titlePadding": 15},
 "legend": {"title": null, "labelFont": "Liberation Sans", "labelFontSize": 20, "labelColor": "black", "rowPadding": 12, "padding": 0, "symbolType": "circle", "symbolStrokeColor": "black", "symbolStrokeWidth": 1.8, "symbolOpacity": 1}
}
}
